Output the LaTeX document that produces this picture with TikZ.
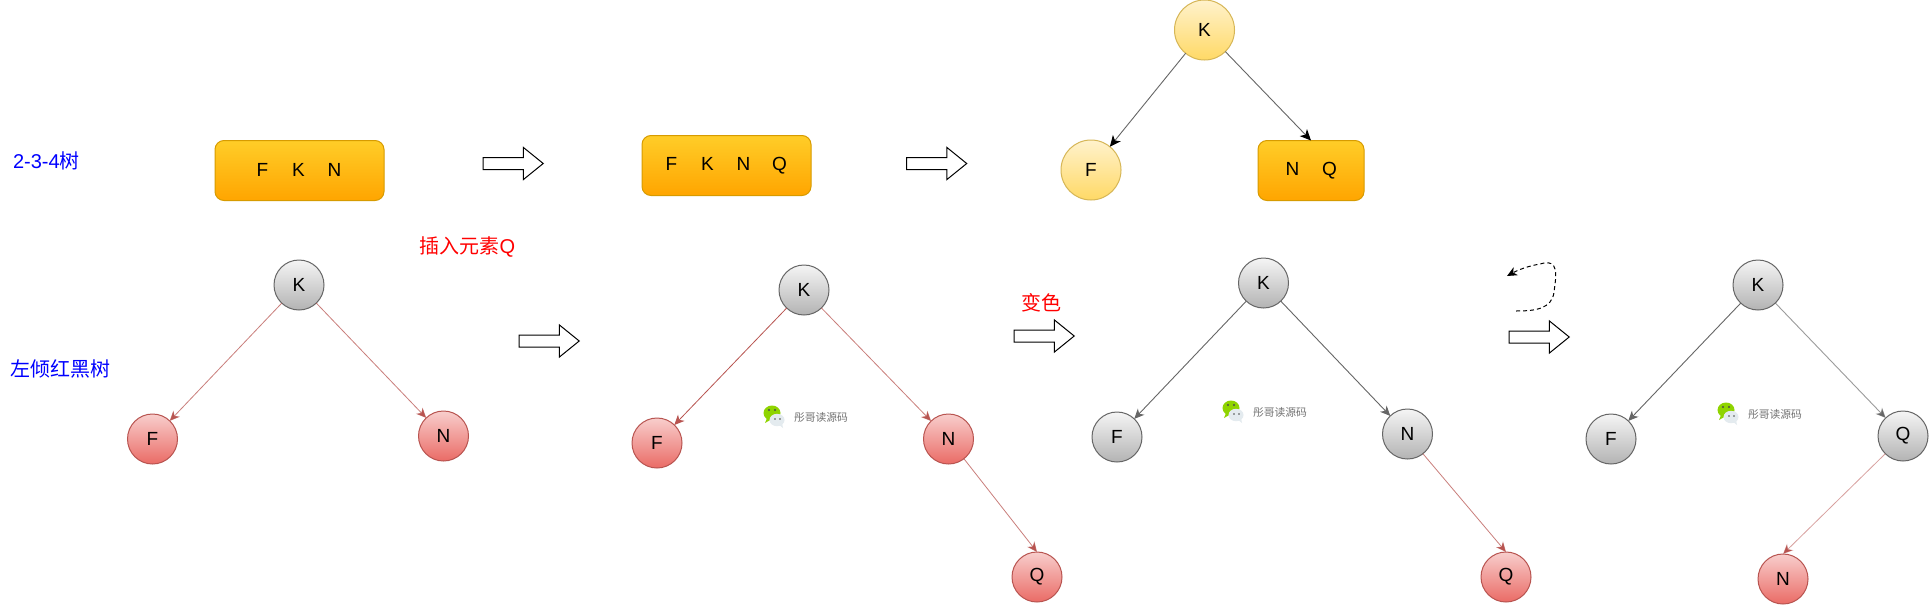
\documentclass[tikz,border=0pt]{standalone}
\usepackage{fontspec}
\setmainfont{Liberation Sans}
\newfontfamily\cjk{Noto Sans CJK SC}
\usetikzlibrary{arrows.meta,shapes.arrows}
\definecolor{boxtop}{HTML}{FFCD28}
\definecolor{boxbot}{HTML}{FFA500}
\definecolor{boxln}{HTML}{D79B00}
\definecolor{yeltop}{HTML}{FFF2CC}
\definecolor{yelbot}{HTML}{FFD966}
\definecolor{yelln}{HTML}{D6B656}
\definecolor{graytop}{HTML}{F5F5F5}
\definecolor{graybot}{HTML}{B3B3B3}
\definecolor{grayln}{HTML}{666666}
\definecolor{redtop}{HTML}{F8CECC}
\definecolor{redbot}{HTML}{EA6B66}
\definecolor{redln}{HTML}{B85450}
\definecolor{wxgreen}{HTML}{8FD400}
\definecolor{wxwhite}{HTML}{E4EBEF}
\tikzset{
  every node/.style={inner sep=0pt,outer sep=0pt,font=\fontsize{19}{22}\selectfont},
  gnode/.style={circle,minimum size=50pt,draw=grayln,line width=1pt,top color=graytop,bottom color=graybot},
  rnode/.style={circle,minimum size=50pt,draw=redln,line width=1pt,top color=redtop,bottom color=redbot},
  ynode/.style={circle,minimum size=60pt,draw=yelln,line width=1pt,top color=yeltop,bottom color=yelbot},
  obox/.style={rectangle,rounded corners=9pt,draw=boxln,line width=1pt,top color=boxtop,bottom color=boxbot,minimum height=60pt},
  harrow/.style={single arrow,draw=black,fill=white,line width=1pt,minimum height=60pt,minimum width=31pt,single arrow head extend=10pt,single arrow tip angle=78,single arrow head indent=0pt,shape border rotate=0},
  tip/.style={-{Stealth[length=10pt,width=9pt,inset=3pt]}},
  redge/.style={tip,draw=redln,line width=.8pt,draw opacity=.75},
  redgelt/.style={tip,draw=redln,line width=.8pt,draw opacity=.55},
  gedge/.style={tip,draw=grayln,line width=.9pt},
  gedgelt/.style={tip,draw=grayln,line width=.9pt,draw opacity=.65},
  kedge/.style={-{Stealth[length=11pt,width=10pt,inset=3pt,black]},draw=grayln,line width=.9pt},
  bluelab/.style={text=blue,font=\fontsize{20}{24}\selectfont},
  redlab/.style={text=red,font=\fontsize{20}{24}\selectfont},
  wmtext/.style={text=black!55,font=\fontsize{10.8}{12}\selectfont\cjk},
}
\newcommand{\cells}[2]{\makebox[#1pt]{#2}}
\newcommand{\arrowbody}{\rule{0pt}{11pt}}
\newcommand{\wechat}[3]{%
  \begin{scope}[shift={(#1,#2)}]
    \fill[wxgreen] (772,413) ellipse (8.5pt and 7.5pt);
    \fill[wxgreen] (767,418) -- (765,423) -- (772,419) -- cycle;
    \fill[black!70] (769,410) circle (1.1pt) (775,410) circle (1.1pt);
    \fill[wxwhite] (777,420) ellipse (7.5pt and 6.2pt);
    \fill[wxwhite] (778,424) -- (783,428) -- (782,423) -- cycle;
    \fill[black!70] (775,419) circle (.9pt) (780,419) circle (.9pt);
    \node[wmtext] (#3) at (821,417) {彤哥读源码};
  \end{scope}}
\begin{document}
\begin{tikzpicture}[x=1pt,y=-1pt]
\useasboundingbox[fill=white] (0,0) rectangle (1929,605);
% labels
\node[bluelab,anchor=west] (l234) at (13,161) {2-3-4{\cjk 树}};
\node[bluelab,anchor=west] (lrb) at (10,369) {\cjk 左倾红黑树};
\node[redlab] (lins) at (467.5,247) {{\cjk 插入元素}Q};
\node[redlab] (lcol) at (1041,303) {\cjk 变色};
% top row
\node[obox,minimum width=169pt] (b1) at (299.5,170.5) {\raisebox{1pt}{\kern-2pt\cells{36}{F}\cells{36}{K}\cells{36}{N}}};
\node[obox,minimum width=169pt] (b2) at (726.5,165.5) {\kern-2pt\cells{36}{F}\cells{36}{K}\cells{36}{N}\cells{36}{Q}};
\node[ynode] (tk) at (1204.5,30) {K};
\node[ynode] (tf) at (1091,170) {F};
\node[obox,minimum width=106pt] (b3) at (1311,170.5) {\raisebox{1pt}{\cells{37}{N}\cells{37}{Q}}};
\draw[kedge] (tk) -- (tf);
\draw[kedge] (tk) -- (b3.north);
% hollow arrows
\node[harrow] (a1) at (509.5,163.5) {\arrowbody};
\node[harrow] (a2) at (933,163.5) {\arrowbody};
\node[harrow] (a3) at (545.5,341) {\arrowbody};
\node[harrow] (a4) at (1040.5,336) {\arrowbody};
\node[harrow] (a5) at (1535.5,337) {\arrowbody};
% tree 1
\node[gnode] (k1) at (299,285) {K};
\node[rnode] (f1) at (152.5,439) {F};
\node[rnode] (n1) at (443.5,436) {N};
\draw[redge] (k1) -- (f1);
\draw[redge] (k1) -- (n1);
% tree 2
\node[gnode] (k2) at (804,290) {K};
\node[rnode] (f2) at (657,443) {F};
\node[rnode] (n2) at (948.5,439) {N};
\node[rnode] (q2) at (1037,577) {Q};
\draw[redge,draw opacity=1] (k2) -- (f2);
\draw[redge] (k2) -- (n2);
\draw[redge] (n2.-52) -- (q2.north);
% tree 3
\node[gnode] (k3) at (1263.5,283) {K};
\node[gnode] (f3) at (1117,437) {F};
\node[gnode] (n3) at (1407.5,434) {N};
\node[rnode] (q3) at (1506,577) {Q};
\draw[gedge] (k3) -- (f3);
\draw[gedge] (k3) -- (n3);
\draw[redge] (n3.-52) -- (q3.north);
% tree 4
\node[gnode] (k4) at (1758,285) {K};
\node[gnode] (f4) at (1611,439) {F};
\node[gnode] (q4) at (1903,436) {Q};
\node[rnode] (n4) at (1783,579) {N};
\draw[gedge] (k4) -- (f4);
\draw[gedgelt] (k4) -- (q4);
\draw[redgelt] (q4.-135) -- (n4.north);
% rotation hint
\coordinate (rs) at (1516,311);
\coordinate (re) at (1507,276);
\draw[tip,dashed,black,line width=1pt,dash pattern=on 4pt off 3pt] (rs) .. controls (1535,311) and (1552,309) .. (1554,292) .. controls (1556,276) and (1560,258) .. (1540,264) .. controls (1528,266) and (1518,270) .. (re);
% watermarks
\wechat{0}{0}{wm1}
\wechat{459}{-5}{wm2}
\wechat{954}{-3}{wm3}
\end{tikzpicture}
\end{document}
